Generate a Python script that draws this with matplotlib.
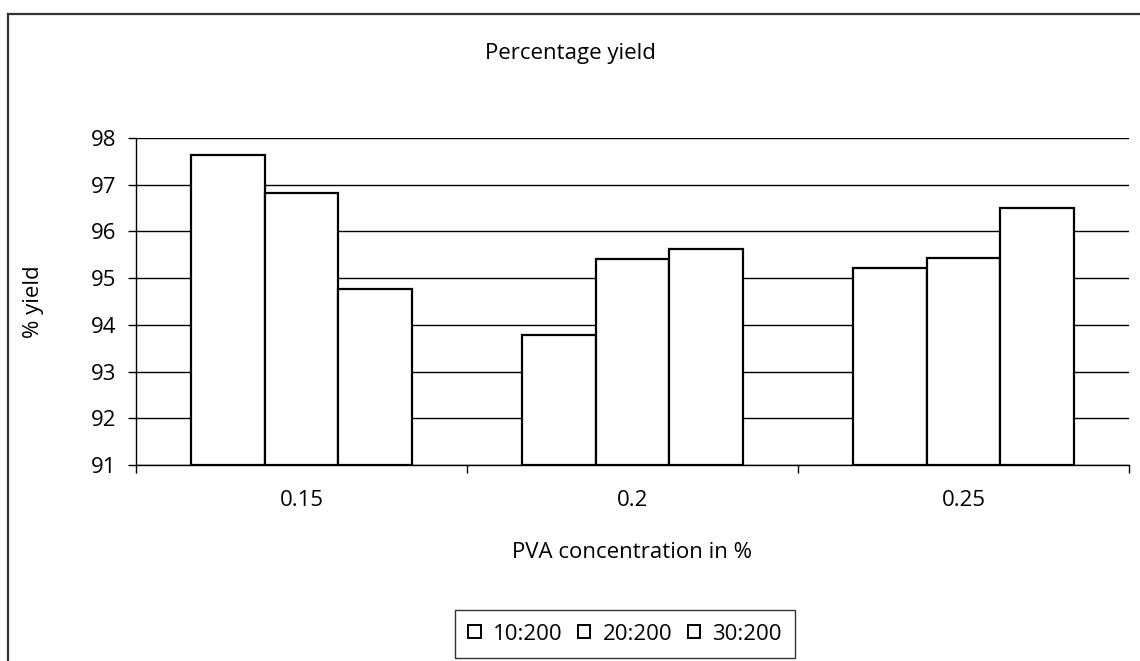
import numpy as np
import matplotlib
matplotlib.use("Agg")
import matplotlib.pyplot as plt
from matplotlib.lines import Line2D
from matplotlib.patches import Rectangle

plt.rcParams['font.family'] = ['Open Sans', 'DejaVu Sans']

# PVA concentration (%) and yield for each drug:polymer ratio
concentrations = ['0.15', '0.2', '0.25']
ratios = ['10:200', '20:200', '30:200']
yields = {
    '10:200': [97.64, 93.79, 95.21],
    '20:200': [96.82, 95.42, 95.43],
    '30:200': [94.77, 95.62, 96.51],
}
y_ticks = [91, 92, 93, 94, 95, 96, 97, 98]
fs = 16

fig = plt.figure(figsize=(11.4, 6.61), dpi=100)
ax = fig.add_axes([136 / 1140, 1 - 465 / 661, 993 / 1140, 327 / 661])

x = np.arange(len(concentrations))
width = 1 / 4.5  # Excel style 150% gap width
for i, r in enumerate(ratios):
    ax.bar(x + (i - 1) * width, np.array(yields[r]) - 91, width, bottom=91,
           color='white', edgecolor='black', linewidth=1.6, zorder=3, label=r)

ax.set_xlim(-0.5, 2.5)
ax.set_ylim(91, 98)
ax.set_yticks(y_ticks)
ax.yaxis.grid(True, color='black', linewidth=1.0, zorder=0)
ax.set_axisbelow(True)

ax.set_xticks(x)
ax.set_xticklabels(concentrations)
ax.set_xticks([-0.5, 0.5, 1.5, 2.5], minor=True)
ax.tick_params(axis='x', which='major', length=0, pad=18, labelsize=fs)
ax.tick_params(axis='x', which='minor', length=6, width=1, direction='out')
ax.tick_params(axis='y', length=6, width=1, direction='out', labelsize=fs, pad=8)

for s in ['top', 'right']:
    ax.spines[s].set_visible(False)
for s in ['left', 'bottom']:
    ax.spines[s].set_color('black')
    ax.spines[s].set_linewidth(1.0)

ax.set_ylabel('% yield', fontsize=fs)
ax.yaxis.set_label_coords(-(136 - 44) / 993, 0.5)
ax.set_xlabel('PVA concentration in %', fontsize=fs)
ax.xaxis.set_label_coords(0.5, -(542 - 465) / 327)
fig.text(570 / 1140, 1 - 54 / 661, 'Percentage yield', ha='center', va='center',
         fontsize=fs)

handles = [Rectangle((0, 0), 1, 1, facecolor='white', edgecolor='black', linewidth=1.4)
           for _ in ratios]
leg = fig.legend(handles, ratios, loc='center', bbox_to_anchor=(625 / 1140, 1 - 634 / 661),
                 ncol=3, fontsize=fs, frameon=True, fancybox=False,
                 handlelength=0.55, handleheight=0.55, handletextpad=0.55,
                 columnspacing=0.7, borderpad=0.6, borderaxespad=0)
leg.get_frame().set_edgecolor('black')
leg.get_frame().set_linewidth(1.0)

# chart area border
fig.add_artist(Line2D([8 / 1140, 1], [1 - 14 / 661] * 2, color='#333333', linewidth=1.6))
fig.add_artist(Line2D([8 / 1140] * 2, [0, 1 - 14 / 661], color='#333333', linewidth=1.6))

fig.savefig('out.png', dpi=100)
